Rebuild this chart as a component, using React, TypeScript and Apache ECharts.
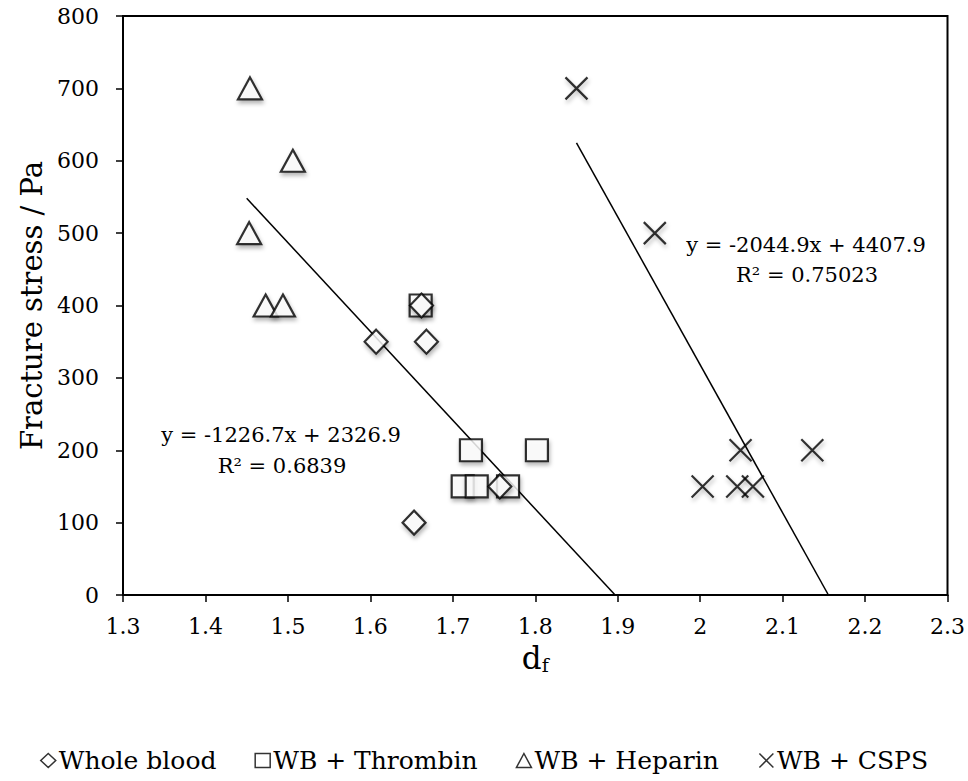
import React, { useEffect, useRef } from "react";
import * as echarts from "echarts";

// Fractal dimension (d_f) vs fracture stress for each blood sample group
const wholeBloodX = [1.607, 1.668, 1.662, 1.653, 1.757];
const wholeBloodY = [350, 350, 400, 100, 150];

const thrombinX = [1.661, 1.722, 1.802, 1.712, 1.729, 1.767];
const thrombinY = [400, 200, 200, 150, 150, 150];

const heparinX = [1.454, 1.506, 1.453, 1.473, 1.494];
const heparinY = [700, 600, 500, 400, 400];

const cspsX = [1.85, 1.945, 2.049, 2.136, 2.003, 2.045, 2.064];
const cspsY = [700, 500, 200, 200, 150, 150, 150];

// Linear trendlines: [slope, intercept, first x]
const fitWB = [-1226.7, 2326.9, 1.45];
const fitCSPS = [-2044.9, 4407.9, 1.85];

const xTicks = { min: 1.3, max: 2.3, step: 0.1 };
const yTicks = { min: 0, max: 800, step: 100 };

const FONT = "DejaVu Serif";

const zip = (xs: number[], ys: number[]) => xs.map((x, i) => [x, ys[i]]);

const fitLine = (f: number[]) => {
  const [m, b, x0] = f;
  return [
    [x0, m * x0 + b],
    [-b / m, 0],
  ];
};

const shadow = {
  shadowBlur: 4,
  shadowColor: "rgba(0,0,0,0.35)",
  shadowOffsetX: 1,
  shadowOffsetY: 3,
};

const markerStyle = {
  color: "#ffffff",
  borderColor: "#000000",
  borderWidth: 2.2,
  ...shadow,
};

const CROSS = "path://M0,0L20,20M20,0L0,20";

export default function App() {
  const ref = useRef<HTMLDivElement>(null);

  useEffect(() => {
    if (!ref.current) return;
    const chart = echarts.init(ref.current, null, { renderer: "svg" });

    const option = {
      animation: false,
      backgroundColor: "#ffffff",
      grid: {
        left: 123,
        right: 20,
        top: 16,
        bottom: 186,
        show: true,
        borderColor: "#000000",
        borderWidth: 2,
      },
      xAxis: {
        type: "value",
        min: xTicks.min,
        max: xTicks.max,
        interval: xTicks.step,
        name: "{d|d}{f|f}",
        nameLocation: "middle",
        nameGap: 46,
        nameTextStyle: {
          rich: {
            d: { fontFamily: FONT, fontSize: 31, color: "#000" },
            f: { fontFamily: FONT, fontSize: 19, color: "#000", verticalAlign: "bottom", padding: [14, 0, 0, 0] },
          },
        },
        axisLine: { show: true, lineStyle: { color: "#000", width: 2 } },
        axisTick: { show: true, inside: false, length: 7, lineStyle: { color: "#000", width: 1.5 } },
        axisLabel: {
          fontFamily: FONT,
          fontSize: 22,
          color: "#000",
          margin: 20,
          formatter: (v: number) => String(Math.round(v * 10) / 10),
        },
        splitLine: { show: false },
      },
      yAxis: {
        type: "value",
        min: yTicks.min,
        max: yTicks.max,
        interval: yTicks.step,
        name: "Fracture stress / Pa",
        nameLocation: "middle",
        nameGap: 76,
        nameTextStyle: { fontFamily: FONT, fontSize: 29, color: "#000" },
        axisLine: { show: true, lineStyle: { color: "#000", width: 2 } },
        axisTick: { show: true, inside: false, length: 7, lineStyle: { color: "#000", width: 1.5 } },
        axisLabel: { fontFamily: FONT, fontSize: 22, color: "#000", margin: 24 },
        splitLine: { show: false },
      },
      legend: {
        data: ["Whole blood", "WB + Thrombin", "WB + Heparin", "WB + CSPS"],
        top: 748,
        left: "center",
        padding: 0,
        itemWidth: 15,
        itemHeight: 14,
        itemGap: 38,
        textStyle: { fontFamily: FONT, fontSize: 25, color: "#000", padding: [0, 0, 0, -2] },
        itemStyle: { shadowBlur: 0, shadowOffsetX: 0, shadowOffsetY: 0, shadowColor: "transparent", borderWidth: 1.5 },
      },
      series: [
        {
          type: "line",
          data: fitLine(fitWB),
          showSymbol: false,
          symbol: "none",
          lineStyle: { color: "#000", width: 1.5 },
          z: 1,
        },
        {
          type: "line",
          data: fitLine(fitCSPS),
          showSymbol: false,
          symbol: "none",
          lineStyle: { color: "#000", width: 1.5 },
          z: 1,
        },
        {
          name: "Whole blood",
          type: "scatter",
          symbol: "diamond",
          symbolSize: [23, 24],
          data: zip(wholeBloodX, wholeBloodY),
          itemStyle: markerStyle,
          z: 3,
        },
        {
          name: "WB + Thrombin",
          type: "scatter",
          symbol: "rect",
          symbolSize: 22,
          data: zip(thrombinX, thrombinY),
          itemStyle: markerStyle,
          z: 2,
        },
        {
          name: "WB + Heparin",
          type: "scatter",
          symbol: "triangle",
          symbolSize: [24, 22],
          data: zip(heparinX, heparinY),
          itemStyle: markerStyle,
          z: 2,
        },
        {
          name: "WB + CSPS",
          type: "scatter",
          symbol: CROSS,
          symbolSize: 22,
          data: zip(cspsX, cspsY),
          itemStyle: { ...markerStyle, color: "none" },
          z: 2,
        },
      ],
      graphic: [
        {
          type: "text",
          x: 281,
          y: 435,
          style: {
            text: "y = -1226.7x + 2326.9",
            font: `21px "${FONT}"`,
            fill: "#000",
            align: "center",
            verticalAlign: "middle",
          },
        },
        {
          type: "text",
          x: 282,
          y: 466,
          style: {
            text: "R² = 0.6839",
            font: `21px "${FONT}"`,
            fill: "#000",
            align: "center",
            verticalAlign: "middle",
          },
        },
        {
          type: "text",
          x: 806,
          y: 245,
          style: {
            text: "y = -2044.9x + 4407.9",
            font: `21px "${FONT}"`,
            fill: "#000",
            align: "center",
            verticalAlign: "middle",
          },
        },
        {
          type: "text",
          x: 807,
          y: 275,
          style: {
            text: "R² = 0.75023",
            font: `21px "${FONT}"`,
            fill: "#000",
            align: "center",
            verticalAlign: "middle",
          },
        },
      ],
    };

    chart.setOption(option as any);
    return () => chart.dispose();
  }, []);

  return (
    <div
      ref={ref}
      style={{ position: "fixed", left: 0, top: 0, width: 968, height: 781, background: "#fff" }}
    />
  );
}
